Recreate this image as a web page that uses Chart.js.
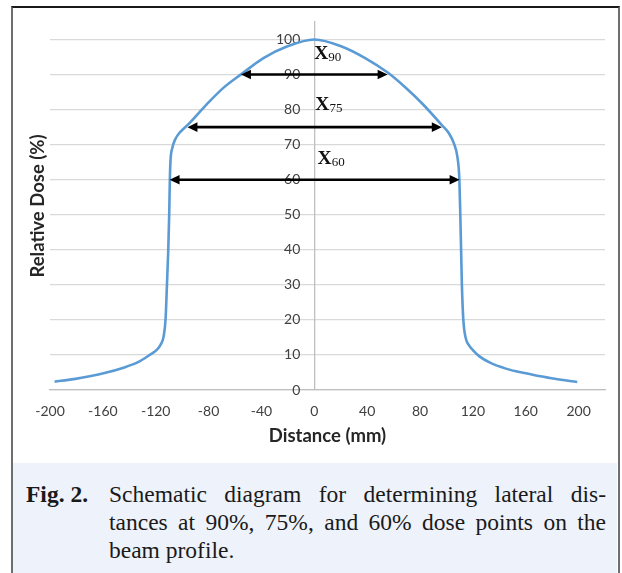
<!DOCTYPE html>
<html>
<head>
<meta charset="utf-8">
<script src="https://cdn.jsdelivr.net/npm/chart.js@4"></script>
<style>
html,body{margin:0;padding:0;background:#fff;width:622px;height:573px;overflow:hidden;}
#frame{position:absolute;left:11px;top:6px;height:600px;border-top:2px solid #1a1a1a;border-left:2px solid #6e6e6e;border-right:2px solid #6e6e6e;box-sizing:border-box;width:609px;}
#wrap{position:absolute;left:0;top:0;width:622px;height:462px;}
#cap{position:absolute;left:13px;top:463px;width:604px;height:110px;background:#eef2fa;}
.ln{position:absolute;font-family:"Liberation Serif",serif;font-size:23.5px;line-height:28px;color:#1a1a1a;white-space:nowrap;}
.fig{left:13px;top:17px;font-weight:bold;}
.body{left:96px;width:497px;white-space:normal;}
.j{text-align:justify;text-align-last:justify;}
</style>
</head>
<body>
<div id="frame"></div>
<div id="wrap"><canvas id="c" width="622" height="462"></canvas></div>
<div id="cap">
  <div class="ln fig">Fig. 2.</div>
  <div class="ln body j" style="top:17px">Schematic diagram for determining lateral dis-</div>
  <div class="ln body j" style="top:45px">tances at 90%, 75%, and 60% dose points on the</div>
  <div class="ln body" style="top:73px">beam profile.</div>
</div>
<script>
// ---- data ----
const distance = [-196.5, -182, -170, -158, -145, -133, -124.5, -119, -116.5, -114, -112.5, -111.5, -110.5, -109.8, -109.3, -108.8, -107.5, -105, -101.7, -95.4, -81.4, -68.8, -54.9, -38.5, -20.7, 0,
  20.7, 38.5, 55.8, 69, 82, 96.5, 102, 105.5, 108.3, 109.8, 110.5, 111.1, 111.7, 112.8, 114.5, 117, 120, 125, 133, 145, 158, 170, 182, 199];
const relativeDose = [2.4, 3.1, 3.9, 4.9, 6.3, 8.0, 10.0, 11.5, 12.8, 15.3, 20.5, 30, 40, 50, 60, 65.5, 69, 71.7, 73.5, 75.8, 81.5, 86.2, 90.2, 94.7, 98, 100,
  98, 94.7, 90.5, 86.3, 81.6, 75.6, 73.2, 70.5, 66.5, 60, 50, 40, 30, 20, 15, 12.8, 11.4, 9.6, 7.8, 6.1, 4.9, 4.0, 3.2, 2.3];

const xTickValues = [-200, -160, -120, -80, -40, 0, 40, 80, 120, 160, 200];
const yTickValues = [0, 10, 20, 30, 40, 50, 60, 70, 80, 90, 100];

const arrowLevels = [90, 75, 60];
const arrowLeftEnds = [-55.5, -96, -109.5];
const arrowRightEnds = [55.5, 96.5, 110];

const markerMain = ['X', 'X', 'X'];
const markerSub = ['90', '75', '60'];
const markerX = [0, 0.8, 2.5];
const markerY = [94.4, 79.9, 64.4];

const xAxisTitle = 'Distance (mm)';
const yAxisTitle = 'Relative Dose (%)';

// ---- chart ----
const points = distance.map((d, i) => ({x: d, y: relativeDose[i]}));
const tickFont = '14px Lato';
const tickColor = '#404040';

const overlay = {
  id: 'overlay',
  beforeDatasetsDraw(chart) {
    const {ctx, scales: {x, y}} = chart;
    ctx.save();
    ctx.font = tickFont;
    ctx.fillStyle = tickColor;
    ctx.textAlign = 'right';
    ctx.textBaseline = 'middle';
    const ax = x.getPixelForValue(0);
    y.ticks.forEach(t => {
      ctx.fillText(String(t.value), ax - 14, y.getPixelForValue(t.value));
    });
    ctx.restore();
  },
  afterDraw(chart) {
    const {ctx, scales: {x, y}, chartArea} = chart;
    ctx.save();
    ctx.translate(38, (chartArea.top + chartArea.bottom) / 2);
    ctx.rotate(-Math.PI / 2);
    ctx.font = 'bold 18.5px Lato';
    ctx.fillStyle = '#262626';
    ctx.textAlign = 'center';
    ctx.textBaseline = 'middle';
    ctx.fillText(yAxisTitle, 0, 0);
    ctx.restore();

    ctx.save();
    ctx.strokeStyle = '#000';
    ctx.fillStyle = '#000';
    ctx.lineWidth = 2.6;
    const hl = 10, hw = 4.8;
    arrowLevels.forEach((lv, i) => {
      const py = y.getPixelForValue(lv);
      const xl = x.getPixelForValue(arrowLeftEnds[i]);
      const xr = x.getPixelForValue(arrowRightEnds[i]);
      ctx.beginPath();
      ctx.moveTo(xl + hl - 1, py);
      ctx.lineTo(xr - hl + 1, py);
      ctx.stroke();
      ctx.beginPath();
      ctx.moveTo(xl, py); ctx.lineTo(xl + hl, py - hw); ctx.lineTo(xl + hl, py + hw); ctx.closePath(); ctx.fill();
      ctx.beginPath();
      ctx.moveTo(xr, py); ctx.lineTo(xr - hl, py - hw); ctx.lineTo(xr - hl, py + hw); ctx.closePath(); ctx.fill();
    });
    ctx.restore();

    ctx.save();
    ctx.fillStyle = '#111';
    ctx.textAlign = 'left';
    ctx.textBaseline = 'alphabetic';
    markerMain.forEach((m, i) => {
      const px = x.getPixelForValue(markerX[i]);
      const py = y.getPixelForValue(markerY[i]);
      ctx.font = 'bold 19.5px "Liberation Serif"';
      ctx.fillText(m, px, py);
      const w = ctx.measureText(m).width;
      ctx.font = '13px "Liberation Serif"';
      ctx.fillText(markerSub[i], px + w, py + 2);
    });
    ctx.restore();
  }
};

new Chart(document.getElementById('c'), {
  type: 'scatter',
  data: {
    datasets: [{
      data: points,
      showLine: true,
      borderColor: '#5b9bd5',
      borderWidth: 2.6,
      pointRadius: 0,
      cubicInterpolationMode: 'monotone',
      fill: false
    }]
  },
  options: {
    responsive: false,
    animation: false,
    layout: {padding: {left: 50, right: 17, top: 22, bottom: 11}},
    plugins: {legend: {display: false}, tooltip: {enabled: false}},
    scales: {
      x: {
        type: 'linear',
        position: 'bottom',
        min: -200,
        max: 220,
        afterBuildTicks: s => { s.ticks = xTickValues.map(v => ({value: v})); },
        grid: {display: false},
        border: {display: true, color: '#bfbfbf', width: 1.3},
        ticks: {padding: 5, color: tickColor, font: {family: 'Lato', size: 14}},
        title: {display: true, text: xAxisTitle, color: '#262626', font: {family: 'Lato', size: 18.5, weight: 'bold'}, padding: {top: 0, bottom: 4}}
      },
      y: {
        type: 'linear',
        position: {x: 0},
        min: 0,
        max: 105,
        afterBuildTicks: s => { s.ticks = yTickValues.map(v => ({value: v})); },
        grid: {color: '#d9d9d9', lineWidth: 1.2, drawTicks: false},
        border: {display: true, color: '#bfbfbf', width: 1.3},
        ticks: {display: false}
      }
    }
  },
  plugins: [overlay]
});
</script>
</body>
</html>
